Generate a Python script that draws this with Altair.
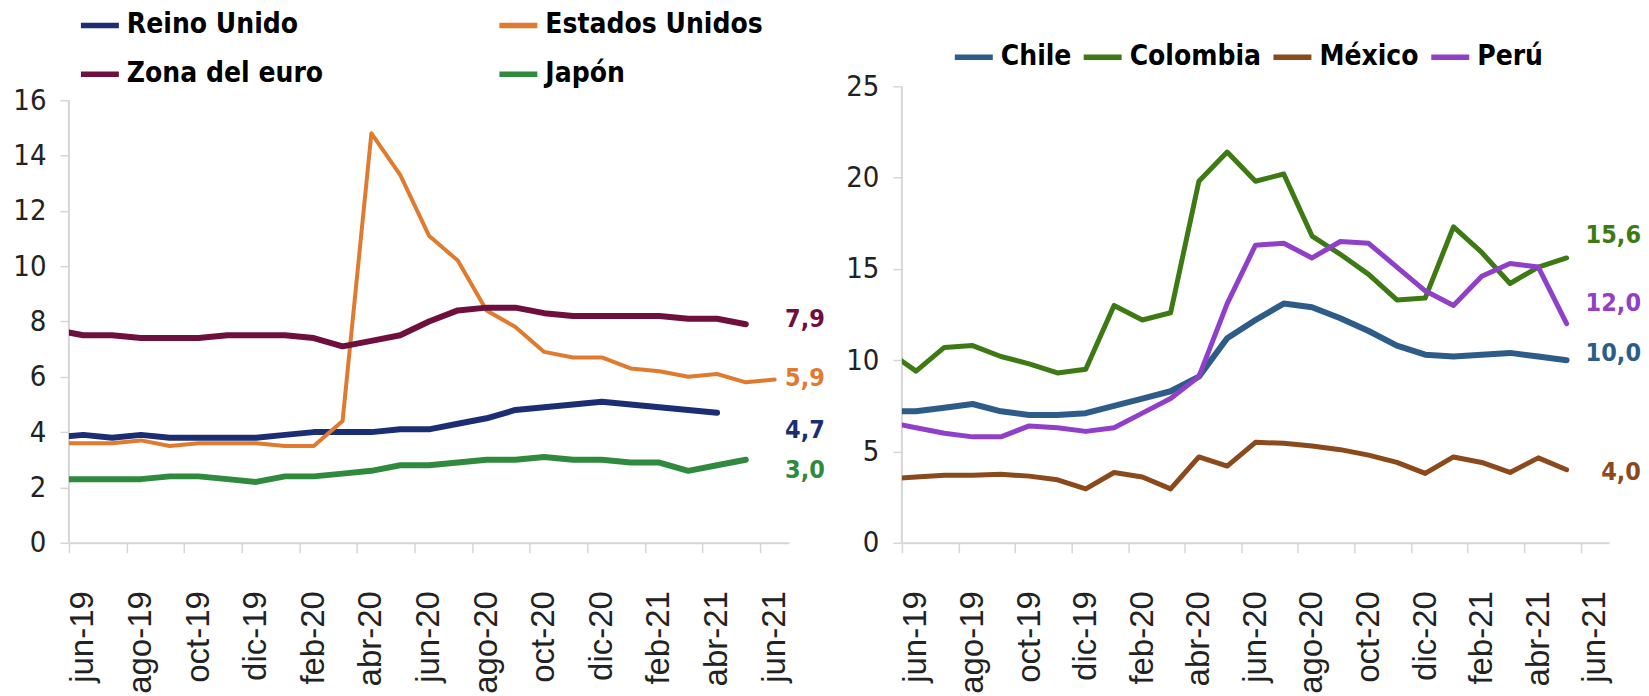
import altair as alt
import pandas as pd

# ---------------- data ----------------
months = ["may-19", "jun-19", "jul-19", "ago-19", "sep-19", "oct-19", "nov-19", "dic-19",
          "ene-20", "feb-20", "mar-20", "abr-20", "may-20", "jun-20", "jul-20", "ago-20",
          "sep-20", "oct-20", "nov-20", "dic-20", "ene-21", "feb-21", "mar-21", "abr-21",
          "may-21", "jun-21"]
tick_labels = ["jun-19", "ago-19", "oct-19", "dic-19", "feb-20", "abr-20", "jun-20",
               "ago-20", "oct-20", "dic-20", "feb-21", "abr-21", "jun-21"]

left_names = ["Reino Unido", "Estados Unidos", "Zona del euro", "Japón"]
reino_unido = [3.8, 3.9, 3.8, 3.9, 3.8, 3.8, 3.8, 3.8, 3.9, 4.0, 4.0, 4.0, 4.1, 4.1,
               4.3, 4.5, 4.8, 4.9, 5.0, 5.1, 5.0, 4.9, 4.8, 4.7]
estados_unidos = [3.6, 3.6, 3.6, 3.7, 3.5, 3.6, 3.6, 3.6, 3.5, 3.5, 4.4, 14.8, 13.3, 11.1,
                  10.2, 8.4, 7.8, 6.9, 6.7, 6.7, 6.3, 6.2, 6.0, 6.1, 5.8, 5.9]
zona_euro = [7.7, 7.5, 7.5, 7.4, 7.4, 7.4, 7.5, 7.5, 7.5, 7.4, 7.1, 7.3, 7.5, 8.0, 8.4,
             8.5, 8.5, 8.3, 8.2, 8.2, 8.2, 8.2, 8.1, 8.1, 7.9]
japon = [2.3, 2.3, 2.3, 2.3, 2.4, 2.4, 2.3, 2.2, 2.4, 2.4, 2.5, 2.6, 2.8, 2.8, 2.9, 3.0,
         3.0, 3.1, 3.0, 3.0, 2.9, 2.9, 2.6, 2.8, 3.0]

right_names = ["Chile", "Colombia", "México", "Perú"]
chile = [7.2, 7.2, 7.4, 7.6, 7.2, 7.0, 7.0, 7.1, 7.5, 7.9, 8.3, 9.1, 11.2, 12.2, 13.1,
         12.9, 12.3, 11.6, 10.8, 10.3, 10.2, 10.3, 10.4, 10.2, 10.0]
colombia = [10.5, 9.4, 10.7, 10.8, 10.2, 9.8, 9.3, 9.5, 13.0, 12.2, 12.6, 19.8, 21.4, 19.8,
            20.2, 16.8, 15.8, 14.7, 13.3, 13.4, 17.3, 15.9, 14.2, 15.1, 15.6]
mexico = [3.5, 3.6, 3.7, 3.7, 3.75, 3.65, 3.45, 2.95, 3.85, 3.6, 2.95, 4.7, 4.2, 5.5, 5.45,
          5.3, 5.1, 4.8, 4.4, 3.8, 4.7, 4.4, 3.85, 4.65, 4.0]
peru = [6.6, 6.3, 6.0, 5.8, 5.8, 6.4, 6.3, 6.1, 6.3, 7.1, 7.9, 9.1, 13.1, 16.3, 16.4,
        15.6, 16.5, 16.4, 15.1, 13.8, 13.0, 14.6, 15.3, 15.1, 12.0]

left_series = [reino_unido, estados_unidos, zona_euro, japon]
right_series = [chile, colombia, mexico, peru]

# ---------------- style ----------------
left_colors = ["#1C2E73", "#E07A2E", "#6E0F3E", "#2F8A3E"]
left_widths = [6, 4, 6, 6]
left_label_dy = [17, -2, -5, 10]
right_colors = ["#2D5C88", "#3D7A14", "#8B4A1C", "#9040C8"]
right_widths = [6, 5, 5, 5]
right_label_dy = [-7, -23, 2, -21]

NARROW = "DejaVu Sans Condensed, Liberation Sans Narrow, sans-serif"
REG = "Liberation Sans, Arial, sans-serif"
AXIS_GRAY = "#D6D6D6"
N_MONTHS = 25


def long_table(names, series):
    rows = []
    for name, vals in zip(names, series):
        for k, v in enumerate(vals):
            rows.append({"serie": name, "mes": months[k], "t": k - 0.5, "valor": v})
    return pd.DataFrame(rows)


def label_table(name, vals):
    v = vals[-1]
    return pd.DataFrame([{"serie": name, "valor": v, "t": N_MONTHS,
                          "texto": f"{v:.1f}".replace(".", ",")}])


label_expr = "[" + ",".join(f"'{s}'" for s in tick_labels) + "][datum.value / 2]"


def panel(names, series, colors, widths, ymax, yticks, legend, lab_align, lab_dx, lab_dys,
          width, height):
    df = long_table(names, series)
    x = alt.X("t:Q", scale=alt.Scale(domain=[0, N_MONTHS], nice=False, zero=False),
              axis=alt.Axis(values=list(range(0, N_MONTHS, 2)), labelExpr=label_expr,
                            title=None, grid=False, labelAngle=270, labelAlign="right",
                            labelBaseline="middle", labelOffset=14, labelPadding=38,
                            tickSize=10, tickColor=AXIS_GRAY, tickWidth=1.5,
                            domainColor=AXIS_GRAY, domainWidth=2, labelFont=REG,
                            labelFontSize=33, labelColor="#222222", labelOverlap=False,
                            labelFlush=False))
    y = alt.Y("valor:Q", scale=alt.Scale(domain=[0, ymax], nice=False),
              axis=alt.Axis(values=yticks, title=None, grid=False, domain=False,
                            tickSize=9, tickColor=AXIS_GRAY, tickWidth=1.5, labelPadding=14,
                            labelFont=NARROW, labelFontSize=29, labelColor="#222222"))
    color = alt.Color("serie:N", scale=alt.Scale(domain=names, range=colors), legend=legend)

    layers = []
    # y axis line, from 0 to the last tick
    rule_df = pd.DataFrame({"valor": [0], "valor2": [yticks[-1]], "t": [0]})
    layers.append(alt.Chart(rule_df).mark_rule(color=AXIS_GRAY, strokeWidth=2).encode(
        x=x, y=y, y2="valor2:Q"))
    for name, w in zip(names, widths):
        sub = df[df["serie"] == name]
        layers.append(alt.Chart(sub).mark_line(
            clip=True, strokeWidth=w, strokeCap="round", strokeJoin="round").encode(
            x=x, y=y, color=color))
    for name, vals, col, dy in zip(names, series, colors, lab_dys):
        layers.append(alt.Chart(label_table(name, vals)).mark_text(
            align=lab_align, baseline="middle", dx=lab_dx, dy=dy, font=NARROW, fontSize=25,
            fontWeight="bold", color=col).encode(x=x, y=y, text="texto:N"))
    return alt.layer(*layers).properties(width=width, height=height)


common_legend = dict(title=None, symbolType="stroke", symbolSize=1444, symbolStrokeWidth=5.5,
                     labelFont=NARROW, labelFontWeight="bold", labelColor="black",
                     labelOffset=5, padding=0, orient="none", labelLimit=500,
                     direction="horizontal", labelFontSize=28)

left_legend = alt.Legend(columns=2, columnPadding=165, rowPadding=13, legendX=9,
                         legendY=-83, **common_legend)
right_legend = alt.Legend(columnPadding=1, legendX=50, legendY=-51, **common_legend)

left = panel(left_names, left_series, left_colors, left_widths, 16.5,
             list(range(0, 17, 2)), left_legend, "left", -4, left_label_dy, 721, 457)
right = panel(right_names, right_series, right_colors, right_widths, 25,
              list(range(0, 26, 5)), right_legend, "right", 32, right_label_dy, 708, 457)

chart = alt.hconcat(left, right, spacing=113, bounds="flush").resolve_scale(
    x="independent", y="independent", color="independent"
).properties(
    padding={"left": 4, "top": -5, "right": 0, "bottom": 0}, background="white"
).configure_view(strokeWidth=0, stroke="transparent")

chart.save("out.html", embed_options={"renderer": "svg", "actions": False})
